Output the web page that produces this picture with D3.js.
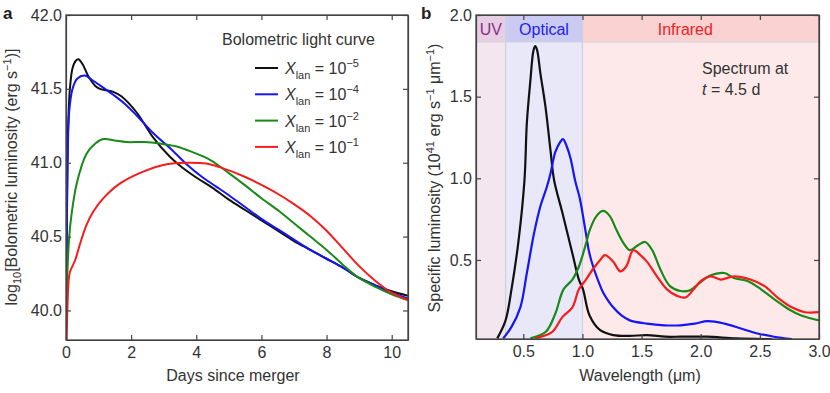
<!DOCTYPE html>
<html>
<head>
<meta charset="utf-8">
<script src="https://cdn.jsdelivr.net/npm/d3@7"></script>
<style>
  body { margin: 0; background: #fff; }
  svg { font-family: "Liberation Sans", Arial, sans-serif; }
  .axis text { font-size: 16px; fill: #333; }
  .axis path, .axis line { stroke: #444; stroke-width: 1.2; }
</style>
</head>
<body>
<div class="container"></div>
<script>
// ---- panel a: bolometric light curves, [days, log10 L]
const lcBlack = [[0.02,40.4],[0.06,41.2],[0.12,41.5],[0.2,41.64],[0.3,41.69],[0.38,41.70],[0.5,41.67],[0.7,41.58],[0.9,41.52],[1.04,41.50],[1.25,41.49],[1.45,41.48],[1.7,41.45],[2.17,41.34],[2.68,41.17],[3.19,41.04],[3.5,40.98],[4.0,40.9],[4.5,40.83],[5.0,40.75],[5.5,40.68],[6.0,40.61],[6.5,40.54],[7.0,40.47],[7.5,40.41],[8.0,40.35],[8.5,40.29],[9.0,40.22],[9.5,40.17],[10.0,40.13],[10.5,40.10]];
const lcBlue = [[0.02,40.3],[0.05,41.0],[0.1,41.35],[0.2,41.5],[0.35,41.57],[0.58,41.59],[0.8,41.56],[1.0,41.53],[1.45,41.46],[1.8,41.40],[2.17,41.32],[2.68,41.20],[3.19,41.10],[3.7,40.99],[4.2,40.90],[4.6,40.84],[5.0,40.78],[5.5,40.70],[6.0,40.62],[6.5,40.55],[7.0,40.48],[7.5,40.41],[8.0,40.35],[8.5,40.29],[9.0,40.22],[9.5,40.17],[10.0,40.12],[10.5,40.08]];
const lcGreen = [[0.02,40.07],[0.05,40.3],[0.1,40.5],[0.17,40.65],[0.33,40.86],[0.63,41.06],[0.9,41.13],[1.15,41.16],[1.5,41.15],[1.86,41.14],[2.4,41.14],[2.88,41.13],[3.4,41.11],[3.9,41.07],[4.42,41.02],[5.0,40.93],[5.54,40.84],[6.0,40.76],[6.56,40.67],[7.0,40.59],[7.5,40.50],[8.0,40.41],[8.5,40.31],[9.0,40.22],[9.5,40.16],[10.0,40.11],[10.5,40.07]];
const lcRed = [[0.02,39.8],[0.08,40.2],[0.12,40.26],[0.28,40.34],[0.43,40.45],[0.63,40.58],[0.84,40.67],[1.15,40.76],[1.66,40.86],[2.37,40.94],[3.09,40.99],[3.7,41.0],[4.3,40.995],[4.72,40.97],[5.54,40.90],[6.0,40.85],[6.5,40.79],[7.0,40.72],[7.5,40.64],[8.0,40.54],[8.5,40.42],[9.0,40.30],[9.5,40.20],[10.0,40.12],[10.5,40.07]];
const lanExponents = ["−5", "−4", "−2", "−1"];
const dayTicks = [0, 2, 4, 6, 8, 10];
const logTicks = [40.0, 40.5, 41.0, 41.5, 42.0];

// ---- panel b: spectra at t = 4.5 d, [wavelength um, L (1e41 erg/s/um)]
const spBlack = [[0.28,0.02],[0.35,0.13],[0.40,0.32],[0.46,0.62],[0.51,0.99],[0.53,1.34],[0.56,1.60],[0.585,1.78],[0.6,1.81],[0.615,1.79],[0.645,1.64],[0.687,1.44],[0.73,1.17],[0.76,0.99],[0.83,0.79],[0.915,0.54],[0.97,0.38],[1.005,0.32],[1.06,0.16],[1.15,0.07],[1.26,0.04],[1.4,0.035],[1.545,0.04],[1.7,0.03],[1.83,0.03],[2.05,0.03],[2.3,0.02],[2.6,0.015]];
const spBlue = [[0.33,0.02],[0.40,0.09],[0.475,0.21],[0.53,0.42],[0.59,0.66],[0.645,0.83],[0.70,0.95],[0.73,1.03],[0.77,1.16],[0.81,1.22],[0.835,1.24],[0.87,1.19],[0.90,1.12],[0.94,0.98],[0.977,0.88],[1.0,0.79],[1.03,0.66],[1.056,0.55],[1.09,0.46],[1.14,0.36],[1.175,0.30],[1.2,0.27],[1.26,0.21],[1.33,0.16],[1.40,0.13],[1.545,0.11],[1.69,0.10],[1.83,0.10],[1.95,0.11],[2.06,0.125],[2.2,0.11],[2.34,0.08],[2.48,0.05],[2.62,0.03],[2.77,0.015]];
const spGreen = [[0.56,0.02],[0.69,0.06],[0.77,0.17],[0.84,0.32],[0.915,0.38],[0.97,0.46],[1.03,0.60],[1.06,0.68],[1.12,0.77],[1.175,0.80],[1.23,0.77],[1.29,0.68],[1.35,0.60],[1.40,0.56],[1.47,0.59],[1.53,0.61],[1.59,0.56],[1.66,0.44],[1.74,0.34],[1.83,0.31],[1.91,0.315],[2.0,0.365],[2.08,0.405],[2.2,0.42],[2.28,0.39],[2.4,0.37],[2.51,0.32],[2.62,0.26],[2.74,0.20],[2.85,0.16],[3.0,0.13]];
const spRed = [[0.60,0.02],[0.745,0.06],[0.83,0.15],[0.915,0.21],[0.97,0.32],[1.03,0.38],[1.085,0.44],[1.15,0.50],[1.19,0.53],[1.26,0.49],[1.32,0.43],[1.37,0.46],[1.43,0.56],[1.49,0.53],[1.545,0.49],[1.63,0.40],[1.715,0.32],[1.80,0.28],[1.87,0.27],[1.94,0.32],[2.0,0.37],[2.08,0.40],[2.17,0.38],[2.28,0.40],[2.42,0.38],[2.54,0.34],[2.65,0.27],[2.77,0.21],[2.88,0.18],[3.0,0.18]];
const bandNames = ["UV", "Optical", "Infrared"];
const bandEdges = [[0.1, 0.35], [0.35, 1.0], [1.0, 3.0]];
const bandLabelAt = [0.225, 0.675, 1.87];
const waveTicks = [0.5, 1.0, 1.5, 2.0, 2.5, 3.0];
const specTicks = [0.5, 1.0, 1.5, 2.0];

const lineColors = ["#111111", "#1515f5", "#198a19", "#f51c1c"];
const bandBody = ["#f4e6ee", "#e8e8f8", "#fde9e9"];
const bandHead = ["#e6cfe2", "#cacaf2", "#fad2d2"];
const bandText = ["#8e2a8e", "#2222ee", "#f02020"];

const svg = d3.select(".container").append("svg")
  .attr("width", 830).attr("height", 393);

// draw a framed panel with inward ticks on all four sides
function frame(g, x, y, xt, yt, fmtX, fmtY) {
  const [x0, x1] = x.range(), [y1, y0] = y.range();
  g.append("g").attr("class", "axis").attr("transform", `translate(0,${y1})`)
    .call(d3.axisBottom(x).tickValues(xt).tickSizeInner(-5).tickSizeOuter(0).tickPadding(7).tickFormat(fmtX));
  g.append("g").attr("class", "axis").attr("transform", `translate(0,${y0})`)
    .call(d3.axisTop(x).tickValues(xt).tickSizeInner(-5).tickSizeOuter(0).tickFormat(""));
  g.append("g").attr("class", "axis").attr("transform", `translate(${x0},0)`)
    .call(d3.axisLeft(y).tickValues(yt).tickSizeInner(-5).tickSizeOuter(0).tickPadding(4).tickFormat(fmtY));
  g.append("g").attr("class", "axis").attr("transform", `translate(${x1},0)`)
    .call(d3.axisRight(y).tickValues(yt).tickSizeInner(-5).tickSizeOuter(0).tickFormat(""));
  g.append("rect").attr("x", x0).attr("y", y0).attr("width", x1 - x0).attr("height", y1 - y0)
    .attr("fill", "none").attr("stroke", "#444").attr("stroke-width", 1.3);
}

// ---------------- panel a ----------------
const xa = d3.scaleLinear().domain([0, 10.5]).range([66, 408]);
const ya = d3.scaleLinear().domain([39.8, 42.0]).range([340, 15]);
const ga = svg.append("g");

svg.append("clipPath").attr("id", "clipA").append("rect")
  .attr("x", 66).attr("y", 15).attr("width", 342).attr("height", 325);
const lineA = d3.line().x(d => xa(d[0])).y(d => ya(d[1])).curve(d3.curveCatmullRom.alpha(0.5));
ga.append("g").attr("clip-path", "url(#clipA)")
  .selectAll("path").data([lcBlack, lcBlue, lcGreen, lcRed]).enter().append("path")
  .attr("d", lineA).attr("fill", "none")
  .attr("stroke", (d, i) => lineColors[i]).attr("stroke-width", 2);

frame(ga, xa, ya, dayTicks, logTicks, d3.format("d"), d3.format(".1f"));

ga.append("text").attr("x", 233).attr("y", 381).attr("text-anchor", "middle")
  .attr("font-size", 16).attr("fill", "#333").text("Days since merger");

const yla = ga.append("text").attr("transform", "translate(17,177) rotate(-90)")
  .attr("text-anchor", "middle").attr("font-size", 16).attr("fill", "#333");
yla.append("tspan").text("log");
yla.append("tspan").attr("font-size", 11).attr("dy", 4).text("10");
yla.append("tspan").attr("dy", -4).text("[Bolometric luminosity (erg s");
yla.append("tspan").attr("font-size", 11).attr("dy", -6).text("−1");
yla.append("tspan").attr("dy", 6).text(")]");

ga.append("text").attr("x", 3).attr("y", 19).attr("font-size", 17)
  .attr("font-weight", "bold").attr("fill", "#222").text("a");

// legend
ga.append("text").attr("x", 222).attr("y", 45).attr("font-size", 16).attr("fill", "#333")
  .text("Bolometric light curve");
const leg = ga.selectAll("g.leg").data(lanExponents).enter().append("g")
  .attr("class", "leg").attr("transform", (d, i) => `translate(0,${68 + i * 26.3})`);
leg.append("line").attr("x1", 255).attr("x2", 278).attr("y1", 0).attr("y2", 0)
  .attr("stroke", (d, i) => lineColors[i]).attr("stroke-width", 2);
const lt = leg.append("text").attr("x", 285).attr("y", 6).attr("font-size", 16).attr("fill", "#333");
lt.append("tspan").attr("font-style", "italic").text("X");
lt.append("tspan").attr("font-size", 11).attr("dy", 5).text("lan");
lt.append("tspan").attr("dy", -5).text(" = 10");
lt.append("tspan").attr("font-size", 11).attr("dy", -7).text(d => d);

// ---------------- panel b ----------------
const xb = d3.scaleLinear().domain([0.1, 3.0]).range([476, 819]);
const yb = d3.scaleLinear().domain([0.016, 2.0]).range([339, 15]);
const gb = svg.append("g");

const band = gb.selectAll("g.band").data(bandNames).enter().append("g").attr("class", "band");
band.append("rect").attr("x", (d, i) => xb(bandEdges[i][0])).attr("y", 15)
  .attr("width", (d, i) => xb(bandEdges[i][1]) - xb(bandEdges[i][0])).attr("height", 324)
  .attr("fill", (d, i) => bandBody[i]);
band.append("rect").attr("x", (d, i) => xb(bandEdges[i][0])).attr("y", 15)
  .attr("width", (d, i) => xb(bandEdges[i][1]) - xb(bandEdges[i][0])).attr("height", 27)
  .attr("fill", (d, i) => bandHead[i]);
band.append("text").attr("x", (d, i) => xb(bandLabelAt[i])).attr("y", 35)
  .attr("text-anchor", "middle").attr("font-size", 16)
  .attr("fill", (d, i) => bandText[i]).text(d => d);
gb.append("line").attr("x1", 476).attr("x2", 819).attr("y1", 42).attr("y2", 42)
  .attr("stroke", "#d4d4dc").attr("stroke-width", 1);
gb.selectAll("line.edge").data(bandEdges.slice(1)).enter().append("line").attr("class", "edge")
  .attr("x1", d => xb(d[0])).attr("x2", d => xb(d[0])).attr("y1", 15).attr("y2", 339)
  .attr("stroke", "#cfd0dc").attr("stroke-width", 1.2);

svg.append("clipPath").attr("id", "clipB").append("rect")
  .attr("x", 476).attr("y", 15).attr("width", 343).attr("height", 324);
const lineB = d3.line().x(d => xb(d[0])).y(d => yb(d[1])).curve(d3.curveCatmullRom.alpha(0.5));
gb.append("g").attr("clip-path", "url(#clipB)")
  .selectAll("path").data([spBlack, spBlue, spGreen, spRed]).enter().append("path")
  .attr("d", lineB).attr("fill", "none")
  .attr("stroke", (d, i) => lineColors[i]).attr("stroke-width", 2.2);

frame(gb, xb, yb, waveTicks, specTicks, d3.format(".1f"), d3.format(".1f"));

gb.append("text").attr("x", 640).attr("y", 381).attr("text-anchor", "middle")
  .attr("font-size", 16).attr("fill", "#333").text("Wavelength (μm)");

const ylb = gb.append("text").attr("transform", "translate(440,178) rotate(-90)")
  .attr("text-anchor", "middle").attr("font-size", 16).attr("fill", "#333");
ylb.append("tspan").text("Specific luminosity (10");
ylb.append("tspan").attr("font-size", 11).attr("dy", -6).text("41");
ylb.append("tspan").attr("dy", 6).text(" erg s");
ylb.append("tspan").attr("font-size", 11).attr("dy", -6).text("−1");
ylb.append("tspan").attr("dy", 6).text(" μm");
ylb.append("tspan").attr("font-size", 11).attr("dy", -6).text("−1");
ylb.append("tspan").attr("dy", 6).text(")");

gb.append("text").attr("x", 421).attr("y", 19).attr("font-size", 17)
  .attr("font-weight", "bold").attr("fill", "#222").text("b");

gb.append("text").attr("x", 702).attr("y", 74).attr("font-size", 16).attr("fill", "#333")
  .text("Spectrum at");
const tt = gb.append("text").attr("x", 702).attr("y", 95).attr("font-size", 16).attr("fill", "#333");
tt.append("tspan").attr("font-style", "italic").text("t");
tt.append("tspan").text(" = 4.5 d");
</script>
</body>
</html>
